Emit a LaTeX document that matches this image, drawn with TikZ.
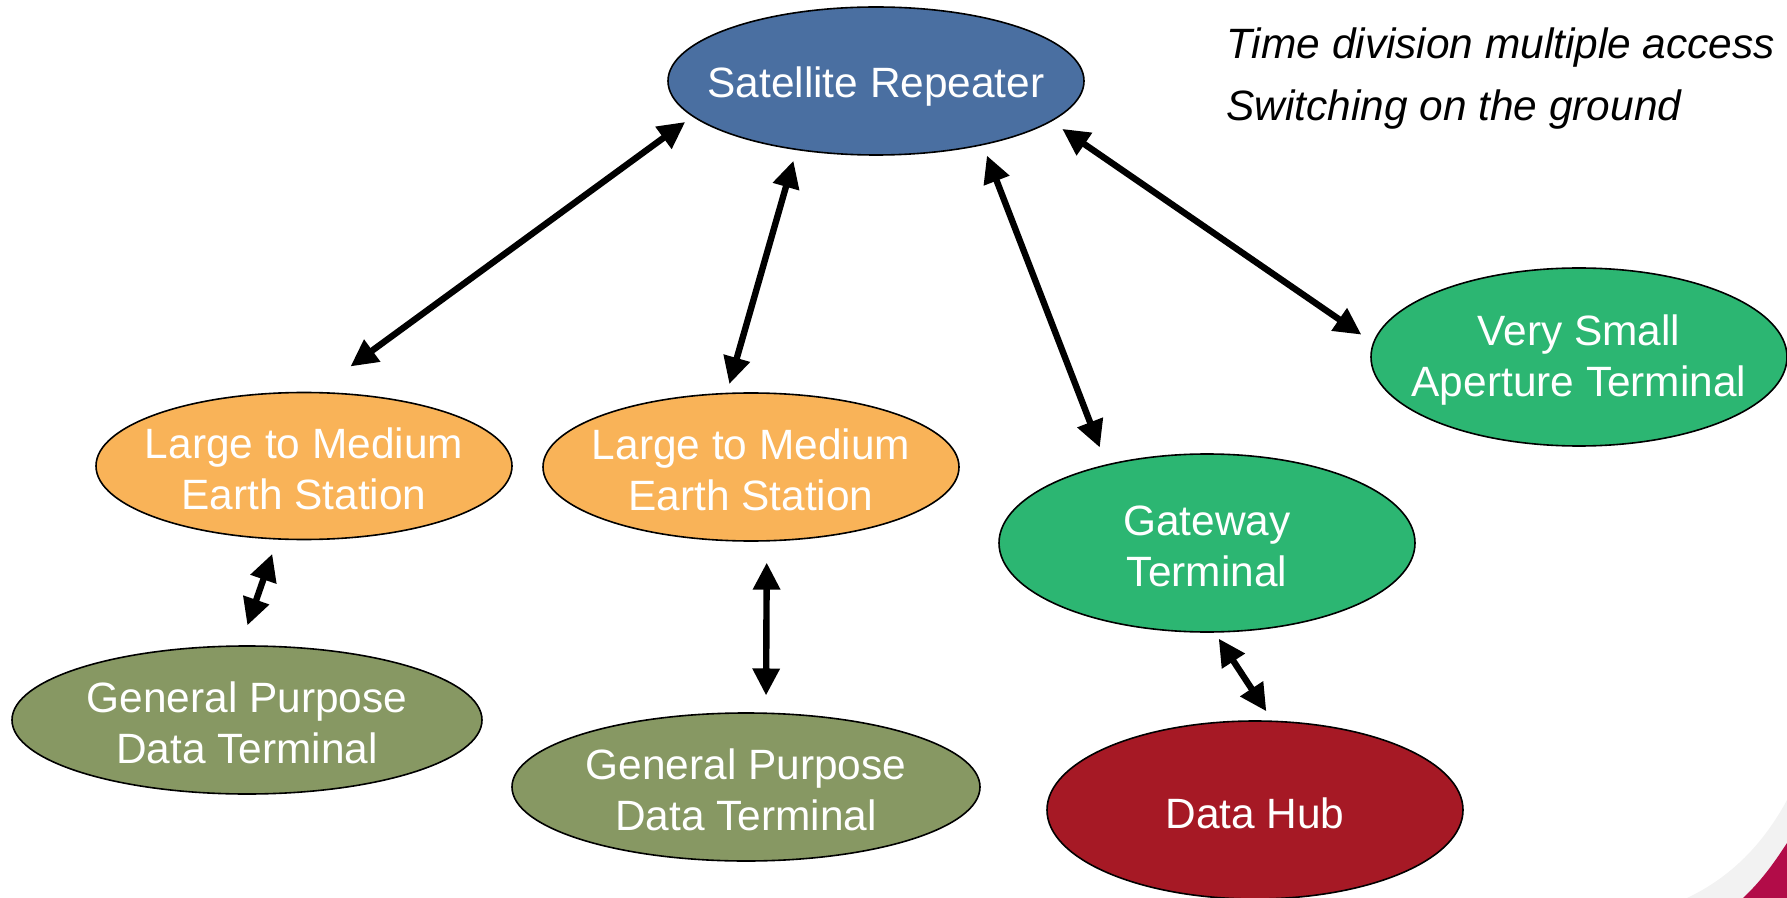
\documentclass[tikz,border=0pt]{standalone}
\usepackage{fontspec}
\setmainfont{Liberation Sans}
\usetikzlibrary{shapes.geometric,arrows.meta}
\definecolor{repblue}{RGB}{74,111,161}
\definecolor{stnorange}{RGB}{249,179,88}
\definecolor{gpolive}{RGB}{135,152,99}
\definecolor{termgreen}{RGB}{44,182,114}
\definecolor{hubred}{RGB}{166,25,37}
\definecolor{swoosh}{RGB}{178,12,72}

\begin{document}
\begin{tikzpicture}[x=.5pt,y=-.5pt,
    blob/.style={draw,ellipse,line width=.8pt,minimum width=208pt,minimum height=74pt,inner sep=0pt},
    txt/.style={text=white,align=center,inner sep=0pt,yshift=-1.5pt,font=\fontsize{21.2}{25.5}\selectfont},
    link/.style={line width=3.2pt,{Triangle[length=13.5pt,width=13pt]}-{Triangle[length=13.5pt,width=13pt]}},
    note/.style={align=left,inner sep=0pt,font=\fontsize{21.2}{31}\selectfont\itshape}]
      \useasboundingbox (0,0) rectangle (1787,898);
      % corner of the slide
      \fill[black!5] (1787,800) .. controls (1760,850) and (1725,880) .. (1687,898) -- (1787,898) -- cycle;
      \fill[swoosh] (1787,843) .. controls (1772,866) and (1760,882) .. (1743,898) -- (1787,898) -- cycle;
      % stations
      \node[blob,fill=repblue,label={[txt,yshift=-1.5pt]center:Satellite Repeater}] (sr) at (876,81) {};
      \node[blob,fill=stnorange,minimum height=73.5pt,label={[txt]center:Large to Medium\\Earth Station}] (lme1) at (304,466) {};
      \node[blob,fill=stnorange,label={[txt]center:Large to Medium\\Earth Station}] (lme2) at (751,467) {};
      \node[blob,fill=gpolive,minimum width=235pt,label={[txt]center:General Purpose\\Data Terminal}] (gpdt1) at (247,720) {};
      \node[blob,fill=gpolive,minimum width=234pt,label={[txt]center:General Purpose\\Data Terminal}] (gpdt2) at (746,787) {};
      \node[blob,fill=termgreen,minimum height=89pt,label={[txt]center:Gateway\\Terminal}] (gt) at (1207,543) {};
      \node[blob,fill=termgreen,minimum height=89pt,label={[txt]center:Very Small\\Aperture Terminal}] (vsat) at (1579,357) {};
      \node[blob,fill=hubred,minimum height=89pt,label={[txt]center:Data Hub}] (hub) at (1255,810) {};
      \node[note,anchor=north west] (tdma) at (1226,27) {Time division multiple access\\Switching on the ground};
      % links
      \foreach \a/\b/\ga/\gb in {%
        sr.191/lme1.81/4.5/21.5,
        sr.221/lme2.108/5.5/4.5,
        sr.329/gt.142/5.5/9,
        sr.347/vsat.176/6.5/7,
        lme1.250/gpdt1.95/7.5/10.5,
        lme2.282/gpdt2.75/10.5/8.5,
        gt.275/hub.79/3.5/5.5}{%
          \draw[link,shorten <=\ga pt,shorten >=\gb pt] (\a) -- (\b);
        }
    \end{tikzpicture}
\end{document}
